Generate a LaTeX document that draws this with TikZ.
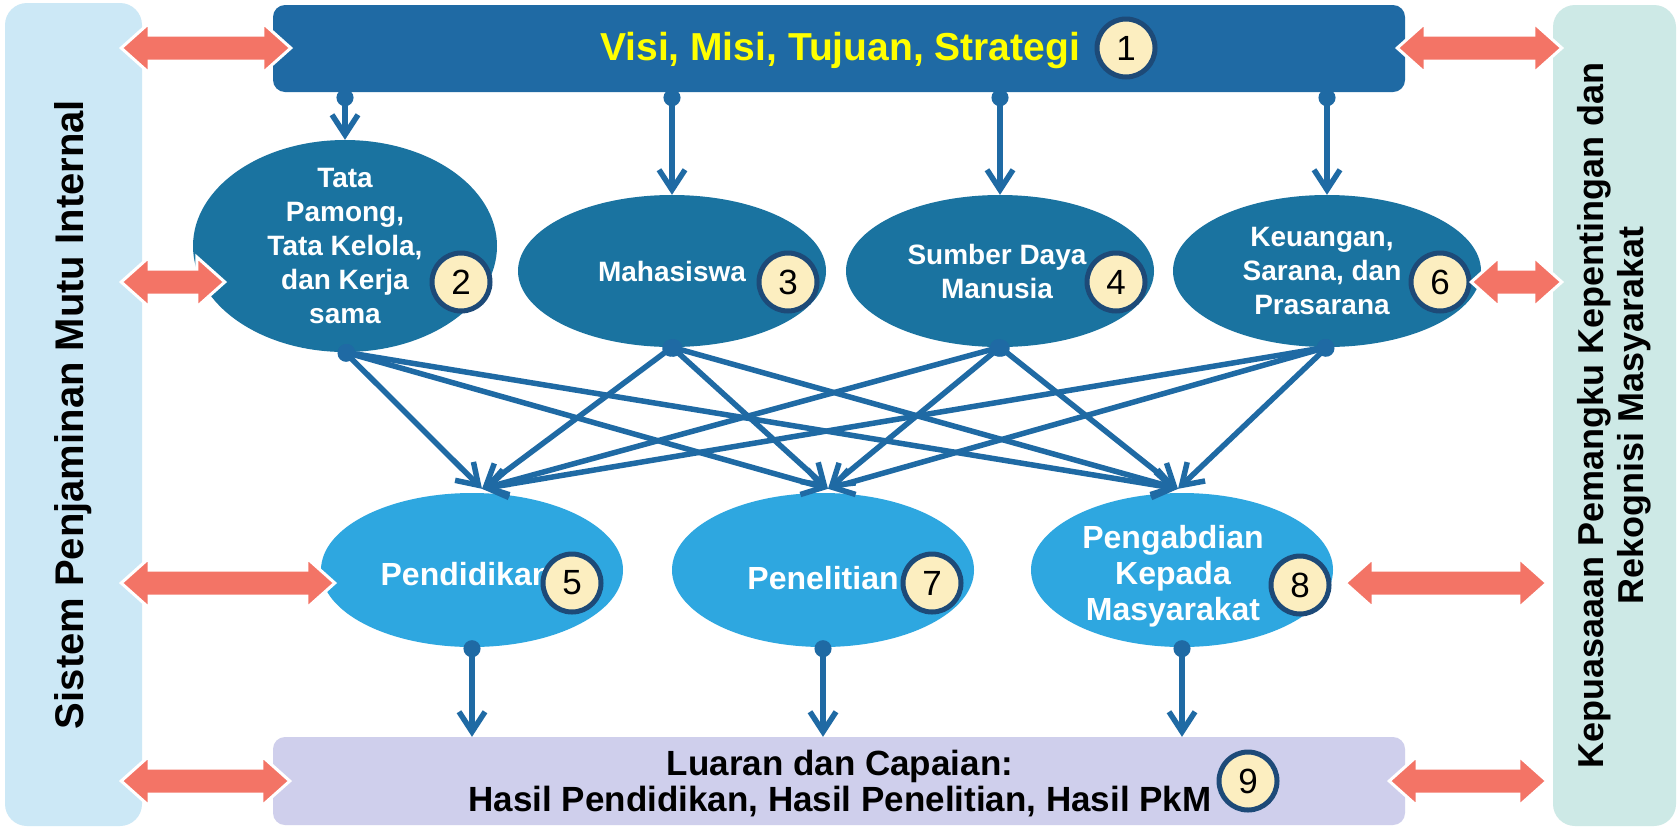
\documentclass[tikz,border=0pt]{standalone}
\usepackage{fontspec}
\setmainfont{Liberation Sans}
\usetikzlibrary{shapes.geometric,arrows.meta,calc}

\definecolor{panelL}{RGB}{204,232,246}
\definecolor{panelR}{RGB}{205,233,230}
\definecolor{barblue}{RGB}{31,106,164}
\definecolor{linkblue}{RGB}{31,106,164}
\definecolor{ellDark}{RGB}{26,115,160}
\definecolor{ellLight}{RGB}{46,167,224}
\definecolor{barLav}{RGB}{207,207,236}
\definecolor{salmon}{RGB}{243,116,102}
\definecolor{numfill}{RGB}{252,238,192}
\definecolor{numline}{RGB}{29,74,120}
\definecolor{titleyellow}{RGB}{255,255,0}

\tikzset{
  panel/.style={rectangle, rounded corners=22pt, inner sep=0pt},
  bar/.style={rectangle, rounded corners=12pt, inner sep=0pt, minimum width=1132pt},
  topell/.style={ellipse, fill=ellDark, inner sep=0pt, minimum width=308pt, minimum height=152pt},
  botell/.style={ellipse, fill=ellLight, inner sep=0pt, minimum width=302pt, minimum height=154pt},
  num/.style={circle, fill=numfill, draw=numline, line width=5pt, minimum size=58pt,
    inner sep=0pt, font=\fontsize{35pt}{35pt}\selectfont},
  titletxt/.style={text=titleyellow, font=\fontsize{39pt}{44pt}\selectfont\bfseries},
  sidetxt/.style={align=center, font=\fontsize{40pt}{44pt}\selectfont\bfseries},
  toptxt/.style={text=white, align=center, font=\fontsize{28pt}{34pt}\selectfont\bfseries},
  bottxt/.style={text=white, align=center, font=\fontsize{32pt}{36pt}\selectfont\bfseries},
  outtxt/.style={align=center, font=\fontsize{35pt}{36pt}\selectfont\bfseries},
  link/.style={draw=linkblue, line width=5.5pt,
    {Circle[length=17pt]}-{Straight Barb[length=20pt,width=26pt]}, shorten <=-7pt},
  % fat two-headed arrow, #1/#2 = how far each tip runs past its end
  duo/.style 2 args={draw=white, line width=3pt, fill=salmon,
    to path={let \p1=(\tikztostart), \p2=(\tikztotarget) in
      (\x1-#1,\y1) -- (\x1-#1+28pt,\y1+25pt) -- (\x1-#1+28pt,\y1+13pt)
      -- (\x2+#2-28pt,\y1+13pt) -- (\x2+#2-28pt,\y1+25pt) -- (\x2+#2,\y1)
      -- (\x2+#2-28pt,\y1-25pt) -- (\x2+#2-28pt,\y1-13pt)
      -- (\x1-#1+28pt,\y1-13pt) -- (\x1-#1+28pt,\y1-25pt) -- cycle}}
}

\begin{document}
\begin{tikzpicture}[x=1pt,y=-1pt]
\path[use as bounding box, fill=white] (0,0) rectangle (1677,828);

% side panels
\node[panel, fill=panelL, minimum width=137pt, minimum height=823pt] (lp) at (73.5,414.5) {};
\node[panel, fill=panelR, minimum width=123pt, minimum height=821pt] (rp) at (1614.5,415.5) {};
\node[sidetxt, rotate=90] (lpt) at (lp) {Sistem Penjaminan Mutu Internal};
\node[sidetxt, rotate=90, font=\fontsize{36pt}{40pt}\selectfont\bfseries] (rpt) at (rp)
  {Kepuasaaan Pemangku Kepentingan dan\\Rekognisi Masyarakat};

% top and bottom bars
\node[bar, fill=barblue, minimum height=87pt] (top) at (839,48.5) {};
\node[bar, fill=barLav, minimum height=88pt] (bot) at (839,781) {};
\node[titletxt] (tt) at (840,50) {Visi, Misi, Tujuan, Strategi};
\node[outtxt] (bt) at (840,784) {Luaran dan Capaian:\\Hasil Pendidikan, Hasil Penelitian, Hasil PkM};

% standards
\node[topell, minimum width=304pt, minimum height=212pt] (e2) at (345,246) {};
\node[topell] (e3) at (672,271) {};
\node[topell] (e4) at (1000,271) {};
\node[topell] (e6) at (1327,271) {};
\node[botell] (e5) at (472,570) {};
\node[botell] (e7) at (823,570) {};
\node[botell] (e8) at (1182,570) {};

\node[toptxt] (t2) at (e2) {Tata\\Pamong,\\Tata Kelola,\\dan Kerja\\sama};
\node[toptxt] (t3) at (e3) {Mahasiswa};
\node[toptxt] (t4) at ([xshift=-3pt]e4) {Sumber Daya\\Manusia};
\node[toptxt] (t6) at ([xshift=-5pt]e6) {Keuangan,\\Sarana, dan\\Prasarana};
\node[bottxt] (t5) at ([xshift=-6pt,yshift=-4pt]e5) {Pendidikan};
\node[bottxt] (t7) at ([xshift=0pt,yshift=-8pt]e7) {Penelitian};
\node[bottxt] (t8) at ([xshift=-9pt,yshift=-6pt]e8) {Pengabdian\\Kepada\\Masyarakat};

% connectors
\foreach \t in {e2,e3,e4,e6}
  \draw[link, shorten <=-3pt] (top.south -| \t) -- (\t.north);
\foreach \s in {e2,e3,e4,e6}{
  \draw[link] (\s.south) -- ([xshift=10pt,yshift=4pt]e5.north);
  \draw[link] (\s.south) -- ([xshift=5pt,yshift=4pt]e7.north);
  \draw[link] (\s.south) -- ([xshift=-4pt,yshift=4pt]e8.north);
}
\foreach \s in {e5,e7,e8}
  \draw[link] (\s.south) -- (bot.north -| \s);

% numbers
\node[num] (n1) at (1126,48) {1};
\node[num] (n2) at (461,282) {2};
\node[num] (n3) at (788,282) {3};
\node[num] (n4) at (1116,282) {4};
\node[num] (n6) at (1440,282) {6};
\node[num] (n5) at (572,583) {5};
\node[num] (n7) at (932,583) {7};
\node[num] (n8) at (1300,585) {8};
\node[num] (n9) at (1248,781) {9};

% links to the side panels
\draw[duo={21pt}{18pt}] (lp.east |- n1) to (top.west |- n1);
\draw[duo={21pt}{32pt}] (lp.east |- n2) to (e2.west |- n2);
\draw[duo={21pt}{14pt}] (lp.east |- n5) to (e5.west |- n5);
\draw[duo={21pt}{17pt}] (lp.east |- bot.west) to (bot.west);
\draw[duo={8pt}{9pt}] (top.east |- n1) to (rp.west |- n1);
\draw[duo={10pt}{9pt}] (e6.east |- n6) to (rp.west |- n6);
\draw[duo={-12pt}{-6pt}] (e8.east |- n5) to (rp.west |- n5);
\draw[duo={16pt}{-6pt}] (bot.east) to (rp.west |- bot.east);
\end{tikzpicture}
\end{document}
